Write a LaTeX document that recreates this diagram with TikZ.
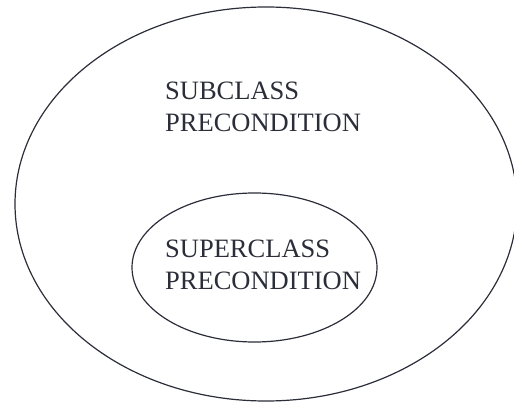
\documentclass[tikz,border=0pt]{standalone}
\usepackage{fontspec}
\setmainfont{Liberation Serif}
\usetikzlibrary{shapes.geometric}
\definecolor{ink}{HTML}{2B2D38}
\tikzset{
  region/.style={draw=ink, line width=1.2pt, ellipse, inner sep=0pt},
  lbl/.style={anchor=base west, inner sep=0pt, text=ink, font=\fontsize{26.5}{32}\selectfont}
}
\begin{document}
\begin{tikzpicture}[x=1pt,y=-1pt]
\useasboundingbox (0,0) rectangle (514,403);
\clip (0,0) rectangle (514,403);
\node[region, minimum width=502pt, minimum height=394pt] (outer) at (266,204) {};
\node[region, minimum width=245pt, minimum height=149pt] (inner) at (254.5,267.5) {};
\node[lbl] (sub1) at (165,100) {SUBCLASS};
\node[lbl] (sub2) at (165,132) {PRECONDITION};
\node[lbl] (sup1) at (165,258) {SUPERCLASS};
\node[lbl] (sup2) at (165,290) {PRECONDITION};
\end{tikzpicture}
\end{document}
